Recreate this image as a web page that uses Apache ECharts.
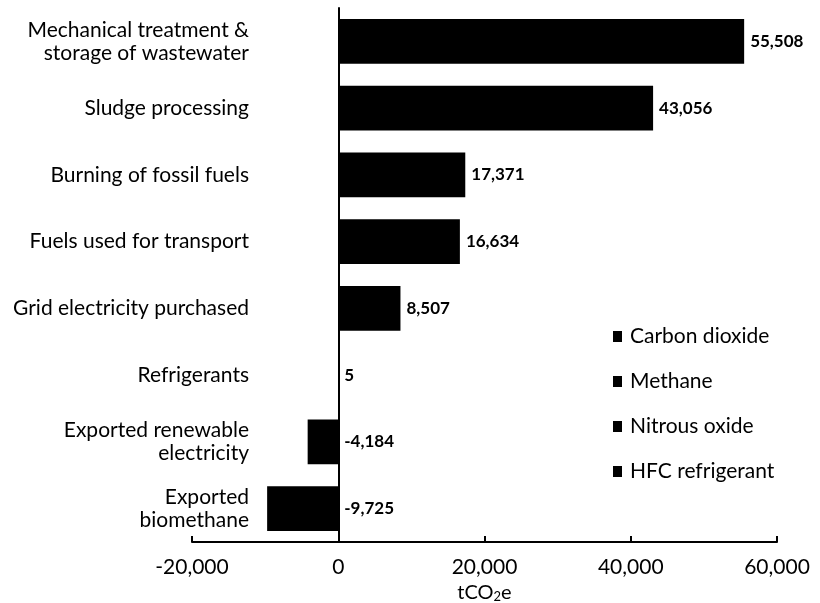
<!DOCTYPE html>
<html>
<head>
<meta charset="utf-8">
<script src="https://cdn.jsdelivr.net/npm/echarts@6/dist/echarts.min.js"></script>
<style>
	html, body { margin: 0; padding: 0; background: #fff; }
	#main { width: 820px; height: 603px; }
</style>
</head>
<body>
<div id="main"></div>
<script>
var categories = [
	'Mechanical treatment &\nstorage of wastewater',
	'Sludge processing',
	'Burning of fossil fuels',
	'Fuels used for transport',
	'Grid electricity purchased',
	'Refrigerants',
	'Exported renewable\nelectricity',
	'Exported\nbiomethane'
];
var emissions = [55508, 43056, 17371, 16634, 8507, 5, -4184, -9725];
var gasNames = ['Carbon dioxide', 'Methane', 'Nitrous oxide', 'HFC refrigerant'];
var xTicks = [-20000, 0, 20000, 40000, 60000];

var fontFamily = 'Lato, "Open Sans", sans-serif';

// the source gives one total per source, so the gas series are only there for the legend
var series = [{
	name: 'Total',
	type: 'bar',
	stack: 'all',
	data: emissions,
	barCategoryGap: '33%',
	itemStyle: { color: '#000' },
	label: {
		show: true,
		position: 'right',
		distance: 6,
		color: '#000',
		fontFamily: fontFamily,
		fontSize: 17,
		fontWeight: 'bold',
		formatter: function (p) { return echarts.format.addCommas(p.value); }
	}
}];
for (var i = 0; i < gasNames.length; i++) {
	series.push({ name: gasNames[i], type: 'bar', stack: 'all', data: [], itemStyle: { color: '#000' } });
}

var myChart = echarts.init(document.getElementById('main'));
myChart.setOption({
	animation: false,
	grid: { left: 192, right: 43, top: 8, bottom: 61, outerBoundsMode: 'none', containLabel: false },
	legend: {
		data: gasNames,
		orient: 'vertical',
		left: 608,
		top: 321,
		icon: 'rect',
		itemWidth: 9,
		itemHeight: 11,
		itemGap: 24,
		textStyle: { color: '#000', fontFamily: fontFamily, fontSize: 21, lineHeight: 21, padding: [0, 0, 0, 3] }
	},
	xAxis: {
		type: 'value',
		min: xTicks[0],
		max: xTicks[xTicks.length - 1],
		interval: 20000,
		splitLine: { show: false },
		axisLine: { show: true, onZero: false, lineStyle: { color: '#000', width: 2 } },
		axisTick: { show: true, inside: true, length: 6, lineStyle: { color: '#000', width: 2 } },
		axisLabel: {
			color: '#000', fontFamily: fontFamily, fontSize: 21, margin: 15,
			formatter: function (v) { return echarts.format.addCommas(v); }
		},
		name: 'tCO{sub|2}e',
		nameLocation: 'middle',
		nameGap: 37,
		nameTextStyle: {
			color: '#000', fontFamily: fontFamily, fontSize: 20,
			rich: { sub: { fontSize: 13, verticalAlign: 'bottom', padding: [7, 0, 0, 0], color: '#000', fontFamily: fontFamily } }
		}
	},
	yAxis: {
		type: 'category',
		inverse: true,
		data: categories,
		axisLine: { show: true, onZero: true, lineStyle: { color: '#000', width: 2 } },
		axisTick: { show: false },
		axisLabel: {
			color: '#000', fontFamily: fontFamily, fontSize: 21, margin: -57,
			align: 'right', lineHeight: 23
		}
	},
	series: series
});
</script>
</body>
</html>
